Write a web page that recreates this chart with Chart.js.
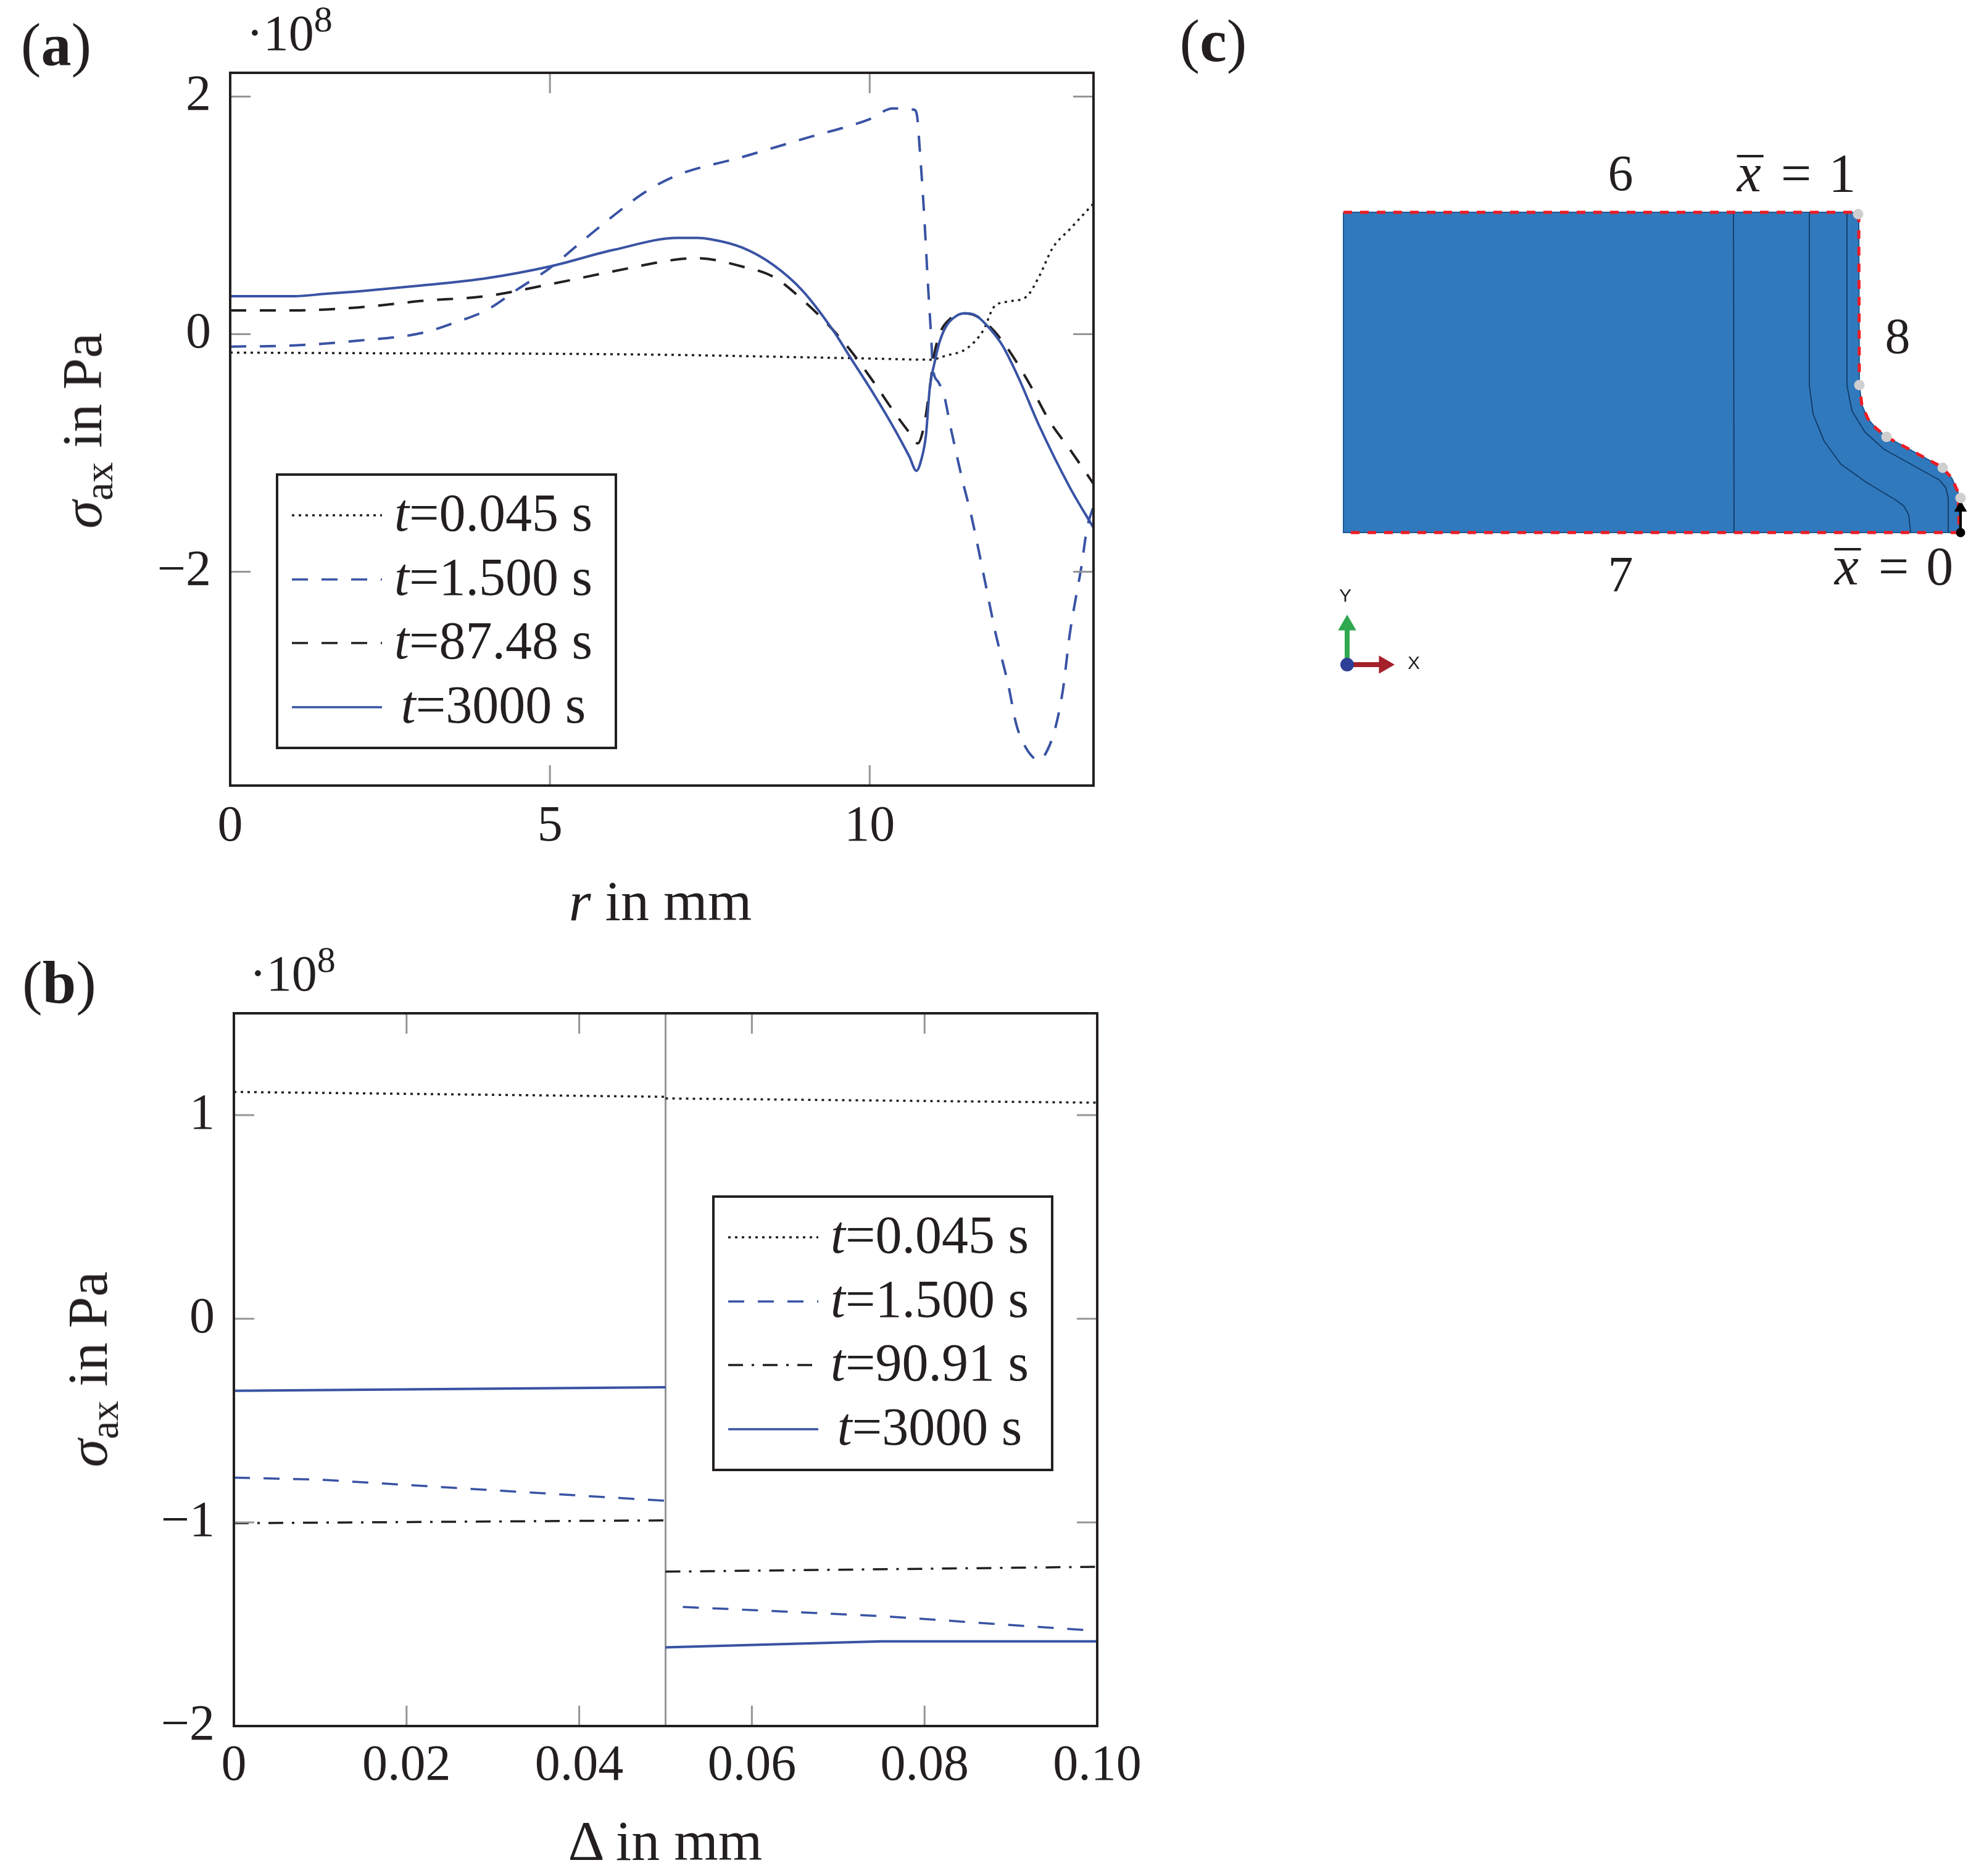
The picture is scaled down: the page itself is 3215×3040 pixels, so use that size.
<!DOCTYPE html>
<html>
<head>
<meta charset="utf-8">
<title>Axial stress</title>
<script src="https://cdn.jsdelivr.net/npm/chart.js@4"></script>
<style>
  html, body { margin: 0; padding: 0; background: #fff; }
  #page { position: relative; width: 3215px; height: 3040px; overflow: hidden; background: #fff;
          font-family: "Liberation Serif", serif; color: #231f20; font-size: 82px; line-height: 1; }
  canvas { position: absolute; }
  .t { position: absolute; transform: translate(-50%, -50%); white-space: nowrap; }
  .title { font-size: 92px; }
  .panel { font-size: 98px; }
  .rot { transform: translate(-50%, -50%) rotate(-90deg); }
  .legend { position: absolute; background: #fff; border: 4px solid #231f20; box-sizing: border-box; }
  .legend div { position: absolute; left: 0; right: 0; height: 104px; }
  .legend svg { position: absolute; left: 22px; top: 0; width: 146px; height: 104px; }
  .legend span { position: absolute; left: 168px; right: 16px; top: 5px; text-align: center; font-size: 86px; white-space: nowrap; }
  sub { font-size: 66px; vertical-align: -18px; line-height: 0; }
  sup { font-size: 60px; vertical-align: 30px; line-height: 0; }
  .mean { font-size: 88px; word-spacing: 6px; }
  .bar { position: relative; display: inline-block; padding-right: 4px; }
  .bar::before { content: ""; position: absolute; left: 0; right: 0; top: 14px; height: 4px; background: #231f20; }
</style>
</head>
<body>
<div id="page">
  <canvas id="chartA" width="1900" height="1500" style="left:0;top:0"></canvas>
  <canvas id="chartB" width="1900" height="1540" style="left:0;top:1500px"></canvas>
  <canvas id="chartC" width="1115" height="830" style="left:2100px;top:300px"></canvas>

  <div class="t panel" style="left:91px;top:72px">(<b>a</b>)</div>
  <div class="t panel" style="left:96px;top:1592px">(<b>b</b>)</div>
  <div class="t panel" style="left:1966px;top:66px">(<b>c</b>)</div>

  <div class="t" style="left:469px;top:54px">·10<sup>8</sup></div>
  <div class="t" style="left:474px;top:1578px">·10<sup>8</sup></div>

  <div class="t rot title" style="left:133px;top:698px"><i>σ</i><sub>ax</sub> in Pa</div>
  <div class="t rot title" style="left:142px;top:2219px"><i>σ</i><sub>ax</sub> in Pa</div>
  <div class="t title" style="left:1070px;top:1460px"><i>r</i> in mm</div>
  <div class="t title" style="left:1078px;top:2983px">Δ in mm</div>

  <div class="t" style="left:2626px;top:281px">6</div>
  <div class="t mean" style="left:2911px;top:281px"><i class="bar">x</i> = 1</div>
  <div class="t" style="left:3075px;top:545px">8</div>
  <div class="t" style="left:2626px;top:931px">7</div>
  <div class="t mean" style="left:3069px;top:918px"><i class="bar">x</i> = 0</div>
  <div class="t" style="left:2180px;top:965px;font:30px 'Liberation Sans',sans-serif">Y</div>
  <div class="t" style="left:2291px;top:1074px;font:30px 'Liberation Sans',sans-serif">X</div>

  <div class="legend" id="legendA" style="left:447px;top:767px;width:553px;height:447px"></div>
  <div class="legend" id="legendB" style="left:1154px;top:1937px;width:553px;height:447px"></div>
</div>

<script>
// colours
const black = '#231f20';
const blue = '#3953a4';
const gray = '#939598';
const dotted = [4, 7];
const dashed = [26, 22];
const dashDot = [24, 14, 4, 14];

// panel (a): sigma_ax over r
const aXTicks = [0, 5, 10];
const aYTicks = [-2, 0, 2];
const r045 = [0, 2, 5, 7, 9, 10, 10.94, 11.2, 11.52, 11.78, 11.94, 12.17, 12.45, 12.65, 12.86, 13.13, 13.5];
const s045 = [-0.155, -0.16, -0.165, -0.175, -0.195, -0.205, -0.215, -0.18, -0.12, 0.036, 0.227, 0.275, 0.315, 0.486, 0.725, 0.884, 1.1];
const r1500 = [0, 1, 2, 3, 3.5, 4, 4.5, 5, 5.5, 6, 6.5, 7, 8, 9, 10, 10.36, 10.69, 10.74, 10.78, 10.85, 10.91, 10.96, 10.99, 11.07, 11.17, 11.26, 11.46, 11.59, 11.78, 11.97, 12.17, 12.29, 12.42, 12.55, 12.65, 12.78, 12.9, 13.02, 13.13, 13.23, 13.31, 13.4, 13.5];
const s1500 = [-0.105, -0.095, -0.055, 0.01, 0.095, 0.2, 0.38, 0.557, 0.78, 1.0, 1.2, 1.34, 1.49, 1.65, 1.81, 1.9, 1.89, 1.84, 1.58, 1.02, 0.43, -0.01, -0.29, -0.4, -0.53, -0.77, -1.25, -1.53, -2.02, -2.52, -2.96, -3.28, -3.46, -3.56, -3.59, -3.5, -3.32, -3.0, -2.52, -2.2, -1.96, -1.63, -1.45];
const r8748 = [0, 1, 2, 3, 4, 5, 6, 7, 7.3, 8, 8.5, 8.995, 9.37, 9.69, 10.07, 10.4, 10.65, 10.75, 10.85, 10.94, 11.01, 11.1, 11.26, 11.49, 11.71, 11.94, 12.17, 12.49, 12.81, 13.13, 13.5];
const s8748 = [0.2, 0.2, 0.225, 0.28, 0.32, 0.42, 0.53, 0.63, 0.64, 0.57, 0.48, 0.267, 0.068, -0.13, -0.41, -0.67, -0.85, -0.92, -0.77, -0.45, -0.17, 0.01, 0.13, 0.175, 0.14, 0.03, -0.13, -0.41, -0.73, -0.97, -1.26];
const r3000 = [0, 1, 1.5, 2, 3, 4, 5, 6, 7, 7.3, 7.5, 8, 8.5, 8.95, 9.43, 9.69, 10.07, 10.4, 10.62, 10.73, 10.81, 10.88, 10.94, 11.01, 11.09, 11.2, 11.36, 11.49, 11.65, 11.84, 12.07, 12.33, 12.65, 13.13, 13.5];
const s3000 = [0.32, 0.32, 0.34, 0.36, 0.41, 0.47, 0.57, 0.71, 0.81, 0.81, 0.8, 0.73, 0.58, 0.366, 0.03, -0.19, -0.51, -0.81, -1.03, -1.15, -1.05, -0.85, -0.45, -0.25, -0.07, 0.07, 0.155, 0.175, 0.16, 0.07, -0.09, -0.37, -0.77, -1.29, -1.63];

// panel (b): sigma_ax over delta, null splits the two sides of the interface
const bXTicks = [0, 0.02, 0.04, 0.06, 0.08, 0.1];
const bXLabels = ['0', '0.02', '0.04', '0.06', '0.08', '0.10'];
const bYTicks = [-2, -1, 0, 1];
const interfaceX = [0.05, 0.05];
const interfaceY = [-2, 1.5];
const d045 = [0, 0.05, 0.05, 0.05, 0.1];
const b045 = [1.114, 1.09, null, 1.082, 1.061];
const d1500 = [0, 0.01, 0.05, 0.05, 0.052, 0.075, 0.1];
const b1500 = [-0.78, -0.79, -0.894, null, -1.415, -1.46, -1.533];
const d9091 = [0, 0.05, 0.05, 0.05, 0.1];
const b9091 = [-1.004, -0.99, null, -1.242, -1.218];
const d3000 = [0, 0.05, 0.05, 0.05, 0.075, 0.1];
const b3000 = [-0.354, -0.336, null, -1.614, -1.584, -1.584];

// panel (c): specimen section, outer profile runs left to right
const edgeX = [0, 835, 836, 840, 850, 863, 880, 970, 986, 996, 998];
const edgeY = [519, 519, 240, 207, 184, 169, 155, 106, 88, 65, 0];
const baseX = [998, 0, 0];
const baseY = [0, 0, 519];
const line1X = [632, 633];
const line1Y = [519, 0];
const line2X = [755, 755, 761, 779, 806, 845, 896, 908, 916, 919];
const line2Y = [519, 238, 192, 148, 111, 83, 52, 43, 29, 0];
const line3X = [816, 816, 824, 845, 876, 966, 976, 980, 980];
const line3Y = [519, 238, 197, 163, 135, 85, 73, 56, 0];
const nodeX = [834, 836, 880, 971, 1000];
const nodeY = [516, 239, 155, 105, 56];

const zip = (xs, ys) => xs.map((x, i) => ({ x: x, y: ys[i] }));

// box and inward grey ticks on all four sides
const framePlugin = {
    id: 'frame',
    afterDatasetsDraw(chart) {
        const { ctx, chartArea: a, scales } = chart;
        const len = 33;
        ctx.save();
        ctx.strokeStyle = gray;
        ctx.lineWidth = 3;
        ctx.beginPath();
        scales.x.ticks.forEach(t => {
            const p = scales.x.getPixelForValue(t.value);
            ctx.moveTo(p, a.top); ctx.lineTo(p, a.top + len);
            ctx.moveTo(p, a.bottom); ctx.lineTo(p, a.bottom - len);
        });
        scales.y.ticks.forEach(t => {
            const p = scales.y.getPixelForValue(t.value);
            ctx.moveTo(a.left, p); ctx.lineTo(a.left + len, p);
            ctx.moveTo(a.right, p); ctx.lineTo(a.right - len, p);
        });
        ctx.stroke();
        ctx.strokeStyle = black;
        ctx.lineWidth = 4;
        ctx.strokeRect(a.left, a.top, a.right - a.left, a.bottom - a.top);
        ctx.restore();
    }
};

function line(xs, ys, color, dash, width, smooth) {
    return {
        data: zip(xs, ys),
        showLine: true,
        borderColor: color,
        borderWidth: width || 3.5,
        borderDash: dash || [],
        pointRadius: 0,
        spanGaps: false,
        cubicInterpolationMode: smooth ? 'monotone' : 'default'
    };
}

function plot(id, datasets, opt) {
    const font = { family: '"Liberation Serif", serif', size: 82 };
    // first dataset is drawn last by default, the reference has it the other way round
    datasets.forEach((d, i) => { d.order = datasets.length - i; });
    new Chart(document.getElementById(id), {
        type: 'scatter',
        data: { datasets: datasets },
        plugins: [framePlugin],
        options: {
            responsive: false,
            animation: false,
            devicePixelRatio: 1,
            layout: { autoPadding: false, padding: opt.padding },
            plugins: { legend: { display: false }, tooltip: { enabled: false } },
            scales: {
                x: {
                    type: 'linear', min: opt.xMin, max: opt.xMax,
                    afterFit: s => { s.height = opt.xHeight; },
                    afterBuildTicks: s => { s.ticks = opt.xTicks.map(v => ({ value: v })); },
                    grid: { display: false },
                    border: { display: false },
                    ticks: {
                        font: font, color: black, padding: opt.xPad, maxRotation: 0, autoSkip: false,
                        callback: (v, i) => opt.xLabels ? opt.xLabels[i] : String(v)
                    }
                },
                y: {
                    type: 'linear', min: opt.yMin, max: opt.yMax,
                    afterFit: s => { s.width = opt.yWidth; },
                    afterBuildTicks: s => { s.ticks = opt.yTicks.map(v => ({ value: v })); },
                    grid: { display: false },
                    border: { display: false },
                    ticks: {
                        font: font, color: black, padding: 23, autoSkip: false,
                        callback: v => String(v).replace('-', '\u2212')
                    }
                }
            }
        }
    });
}

plot('chartA', [
    line(r045, s045, black, dotted, 3.5, true),
    line(r1500, s1500, blue, dashed, 4, true),
    line(r8748, s8748, black, dashed, 4, true),
    line(r3000, s3000, blue, [], 4, true)
], {
    padding: { top: 118, right: 128, left: 0, bottom: 0 },
    xMin: 0, xMax: 13.5, yMin: -3.8, yMax: 2.2,
    xTicks: aXTicks, yTicks: aYTicks,
    xHeight: 227, yWidth: 373, xPad: 10
});

plot('chartB', [
    line(interfaceX, interfaceY, gray, [], 3),
    line(d045, b045, black, dotted),
    line(d1500, b1500, blue, dashed),
    line(d9091, b9091, black, dashDot),
    line(d3000, b3000, blue, [], 4)
], {
    padding: { top: 142, right: 122, left: 0, bottom: 0 },
    xMin: 0, xMax: 0.1, yMin: -2, yMax: 1.5,
    xTicks: bXTicks, xLabels: bXLabels, yTicks: bYTicks,
    xHeight: 243, yWidth: 379, xPad: 8
});

// panel (c) has hidden axes, one data unit is one pixel
function marker(xs, ys, color, style, radius, rotation) {
    return {
        data: zip(xs, ys),
        showLine: false,
        pointStyle: style || 'circle',
        pointRadius: radius,
        pointRotation: rotation || 0,
        pointBackgroundColor: color,
        pointBorderWidth: 0,
        clip: false
    };
}

const navy = '#12406f';

new Chart(document.getElementById('chartC'), {
    type: 'scatter',
    data: {
        datasets: [
            marker(nodeX, nodeY, '#cfcfcf', 'circle', 8.5),
            marker([1000], [0], '#000', 'circle', 7.5),
            marker([1000], [40], '#000', 'triangle', 12),
            line([1000, 1000], [0, 40], '#000', [], 4),
            marker([6], [-214], '#2d3f96', 'circle', 11),
            marker([6], [-150], '#2fa84f', 'triangle', 17),
            line([6, 6], [-214, -150], '#2fa84f', [], 8),
            marker([66], [-214], '#a4202a', 'triangle', 17, 90),
            line([6, 66], [-214, -214], '#a4202a', [], 8),
            line(edgeX, edgeY, '#ed1c24', [14, 13], 5),
            line(baseX.slice(0, 2), baseY.slice(0, 2), '#ed1c24', [14, 13], 5),
            line(line1X, line1Y, navy, [], 2),
            line(line2X, line2Y, navy, [], 2),
            line(line3X, line3Y, navy, [], 2),
            line(baseX, baseY, '#1f5a94', [], 2),
            // section body, filled down to y = 0
            {
                type: 'line',
                data: zip(edgeX, edgeY),
                borderColor: '#1f5a94',
                borderWidth: 2,
                pointRadius: 0,
                tension: 0,
                fill: 'origin',
                backgroundColor: '#3179bd'
            }
        ]
    },
    options: {
        responsive: false,
        animation: false,
        devicePixelRatio: 1,
        layout: { autoPadding: false, padding: 0 },
        plugins: { legend: { display: false }, tooltip: { enabled: false } },
        scales: {
            x: { type: 'linear', min: -77, max: 1038, display: false },
            y: { type: 'linear', min: -267, max: 563, display: false }
        }
    }
});

// legends are plain HTML so the t can be italic
function legend(id, rows) {
    const box = document.getElementById(id);
    rows.forEach((row, i) => {
        const el = document.createElement('div');
        el.style.top = (12 + i * 103.5) + 'px';
        const d = row.dash.length ? ' stroke-dasharray="' + row.dash.join(' ') + '"' : '';
        el.innerHTML = '<svg viewBox="0 0 146 104"><line x1="0" x2="146" y1="52" y2="52" stroke="' + row.color +
            '" stroke-width="3.5"' + d + '/></svg><span><i>t</i>=' + row.text + ' s</span>';
        box.appendChild(el);
    });
}

legend('legendA', [
    { text: '0.045', color: black, dash: dotted },
    { text: '1.500', color: blue, dash: dashed },
    { text: '87.48', color: black, dash: dashed },
    { text: '3000', color: blue, dash: [] }
]);
legend('legendB', [
    { text: '0.045', color: black, dash: dotted },
    { text: '1.500', color: blue, dash: dashed },
    { text: '90.91', color: black, dash: dashDot },
    { text: '3000', color: blue, dash: [] }
]);
</script>
</body>
</html>
